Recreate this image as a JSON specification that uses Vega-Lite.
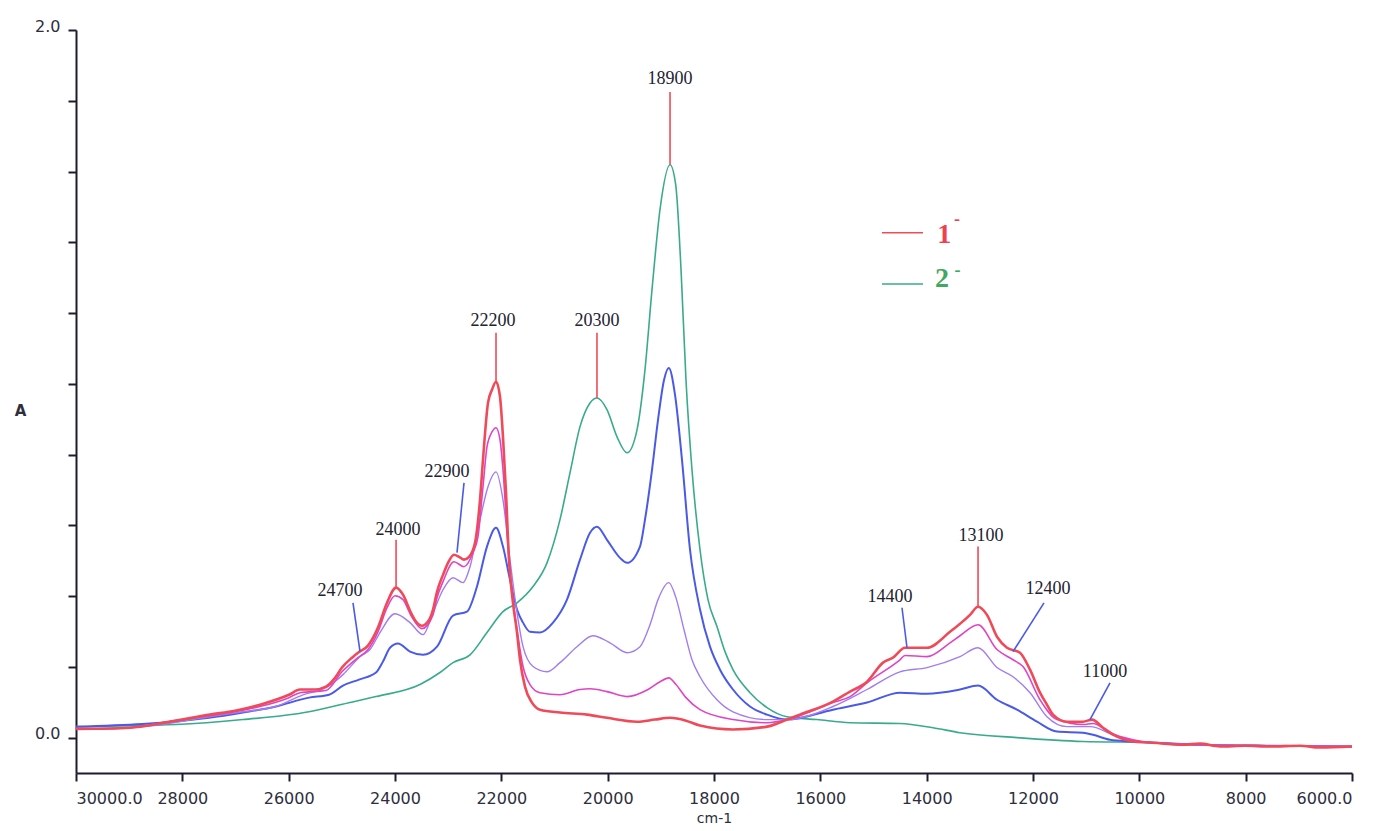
{
"$schema":"https://vega.github.io/schema/vega-lite/v6.json",
"width":1276,"height":743,
"autosize":"none",
"padding":{"left":76,"top":30,"right":31,"bottom":58},
"background":"white",
"config":{"view":{"stroke":null},"axis":{"grid":false}},
"datasets":{
"spectra":[
{"s":"s1","x":30000,"y":0.031},{"s":"s1","x":28119,"y":0.037},{"s":"s1","x":26859,"y":0.051},{"s":"s1","x":25617,"y":0.073},{"s":"s1","x":25034,"y":0.093},{"s":"s1","x":24357,"y":0.116},{"s":"s1","x":23530,"y":0.150},{"s":"s1","x":23154,"y":0.184},{"s":"s1","x":22909,"y":0.212},{"s":"s1","x":22589,"y":0.234},{"s":"s1","x":22270,"y":0.297},{"s":"s1","x":21969,"y":0.356},{"s":"s1","x":21705,"y":0.381},{"s":"s1","x":21404,"y":0.427},{"s":"s1","x":21141,"y":0.494},{"s":"s1","x":20897,"y":0.616},{"s":"s1","x":20708,"y":0.749},{"s":"s1","x":20520,"y":0.879},{"s":"s1","x":20332,"y":0.946},{"s":"s1","x":20201,"y":0.960},{"s":"s1","x":20013,"y":0.927},{"s":"s1","x":19824,"y":0.850},{"s":"s1","x":19636,"y":0.805},{"s":"s1","x":19448,"y":0.870},{"s":"s1","x":19298,"y":1.040},{"s":"s1","x":19166,"y":1.266},{"s":"s1","x":19016,"y":1.492},{"s":"s1","x":18827,"y":1.619},{"s":"s1","x":18720,"y":1.562},{"s":"s1","x":18620,"y":1.322},{"s":"s1","x":18527,"y":1.011},{"s":"s1","x":18414,"y":0.757},{"s":"s1","x":18263,"y":0.531},{"s":"s1","x":18113,"y":0.390},{"s":"s1","x":17944,"y":0.314},{"s":"s1","x":17793,"y":0.243},{"s":"s1","x":17643,"y":0.192},{"s":"s1","x":17323,"y":0.127},{"s":"s1","x":17003,"y":0.085},{"s":"s1","x":16627,"y":0.059},{"s":"s1","x":16063,"y":0.051},{"s":"s1","x":15442,"y":0.042},{"s":"s1","x":14502,"y":0.040},{"s":"s1","x":13881,"y":0.028},{"s":"s1","x":13373,"y":0.014},{"s":"s1","x":12301,"y":0.000},{"s":"s1","x":11059,"y":-0.011},{"s":"s1","x":9799,"y":-0.014},{"s":"s1","x":8859,"y":-0.020},{"s":"s1","x":7542,"y":-0.023},{"s":"s1","x":6000,"y":-0.025},
{"s":"s2","x":30000,"y":0.031},{"s":"s2","x":27498,"y":0.056},{"s":"s2","x":26859,"y":0.071},{"s":"s2","x":26238,"y":0.088},{"s":"s2","x":25617,"y":0.113},{"s":"s2","x":25241,"y":0.121},{"s":"s2","x":24978,"y":0.147},{"s":"s2","x":24677,"y":0.164},{"s":"s2","x":24357,"y":0.184},{"s":"s2","x":24226,"y":0.215},{"s":"s2","x":24094,"y":0.254},{"s":"s2","x":23944,"y":0.266},{"s":"s2","x":23718,"y":0.243},{"s":"s2","x":23473,"y":0.234},{"s":"s2","x":23210,"y":0.257},{"s":"s2","x":22909,"y":0.345},{"s":"s2","x":22646,"y":0.356},{"s":"s2","x":22458,"y":0.427},{"s":"s2","x":22270,"y":0.540},{"s":"s2","x":22100,"y":0.593},{"s":"s2","x":21969,"y":0.540},{"s":"s2","x":21837,"y":0.446},{"s":"s2","x":21705,"y":0.362},{"s":"s2","x":21592,"y":0.325},{"s":"s2","x":21461,"y":0.299},{"s":"s2","x":21273,"y":0.297},{"s":"s2","x":21028,"y":0.325},{"s":"s2","x":20765,"y":0.390},{"s":"s2","x":20520,"y":0.503},{"s":"s2","x":20332,"y":0.579},{"s":"s2","x":20201,"y":0.596},{"s":"s2","x":20013,"y":0.559},{"s":"s2","x":19768,"y":0.508},{"s":"s2","x":19636,"y":0.494},{"s":"s2","x":19392,"y":0.540},{"s":"s2","x":19298,"y":0.616},{"s":"s2","x":19166,"y":0.757},{"s":"s2","x":19053,"y":0.898},{"s":"s2","x":18940,"y":1.011},{"s":"s2","x":18850,"y":1.045},{"s":"s2","x":18733,"y":0.969},{"s":"s2","x":18602,"y":0.785},{"s":"s2","x":18451,"y":0.531},{"s":"s2","x":18263,"y":0.362},{"s":"s2","x":18075,"y":0.257},{"s":"s2","x":17887,"y":0.192},{"s":"s2","x":17643,"y":0.136},{"s":"s2","x":17323,"y":0.088},{"s":"s2","x":17003,"y":0.065},{"s":"s2","x":16627,"y":0.051},{"s":"s2","x":15763,"y":0.079},{"s":"s2","x":15122,"y":0.099},{"s":"s2","x":14502,"y":0.127},{"s":"s2","x":13994,"y":0.124},{"s":"s2","x":13373,"y":0.136},{"s":"s2","x":13034,"y":0.147},{"s":"s2","x":12677,"y":0.107},{"s":"s2","x":12301,"y":0.079},{"s":"s2","x":11925,"y":0.045},{"s":"s2","x":11549,"y":0.017},{"s":"s2","x":11059,"y":0.014},{"s":"s2","x":10871,"y":0.008},{"s":"s2","x":10552,"y":-0.006},{"s":"s2","x":10119,"y":-0.011},{"s":"s2","x":9799,"y":-0.014},{"s":"s2","x":8859,"y":-0.020},{"s":"s2","x":7542,"y":-0.023},{"s":"s2","x":6000,"y":-0.025},
{"s":"s3","x":30000,"y":0.025},{"s":"s3","x":28740,"y":0.031},{"s":"s3","x":27498,"y":0.059},{"s":"s3","x":26859,"y":0.073},{"s":"s3","x":26238,"y":0.088},{"s":"s3","x":25730,"y":0.121},{"s":"s3","x":25298,"y":0.141},{"s":"s3","x":24978,"y":0.178},{"s":"s3","x":24658,"y":0.229},{"s":"s3","x":24470,"y":0.249},{"s":"s3","x":24282,"y":0.297},{"s":"s3","x":24000,"y":0.350},{"s":"s3","x":23718,"y":0.325},{"s":"s3","x":23473,"y":0.291},{"s":"s3","x":23285,"y":0.353},{"s":"s3","x":23097,"y":0.418},{"s":"s3","x":22909,"y":0.452},{"s":"s3","x":22721,"y":0.438},{"s":"s3","x":22589,"y":0.483},{"s":"s3","x":22401,"y":0.616},{"s":"s3","x":22251,"y":0.709},{"s":"s3","x":22100,"y":0.751},{"s":"s3","x":21969,"y":0.672},{"s":"s3","x":21837,"y":0.503},{"s":"s3","x":21705,"y":0.353},{"s":"s3","x":21592,"y":0.257},{"s":"s3","x":21404,"y":0.201},{"s":"s3","x":21141,"y":0.186},{"s":"s3","x":20897,"y":0.212},{"s":"s3","x":20577,"y":0.257},{"s":"s3","x":20276,"y":0.288},{"s":"s3","x":19956,"y":0.268},{"s":"s3","x":19636,"y":0.240},{"s":"s3","x":19392,"y":0.257},{"s":"s3","x":19204,"y":0.319},{"s":"s3","x":19053,"y":0.390},{"s":"s3","x":18850,"y":0.438},{"s":"s3","x":18715,"y":0.395},{"s":"s3","x":18564,"y":0.305},{"s":"s3","x":18414,"y":0.220},{"s":"s3","x":18263,"y":0.172},{"s":"s3","x":17944,"y":0.107},{"s":"s3","x":17643,"y":0.073},{"s":"s3","x":17003,"y":0.051},{"s":"s3","x":16627,"y":0.051},{"s":"s3","x":15763,"y":0.088},{"s":"s3","x":15122,"y":0.136},{"s":"s3","x":14502,"y":0.186},{"s":"s3","x":13994,"y":0.198},{"s":"s3","x":13373,"y":0.229},{"s":"s3","x":13034,"y":0.254},{"s":"s3","x":12677,"y":0.198},{"s":"s3","x":12376,"y":0.172},{"s":"s3","x":12056,"y":0.127},{"s":"s3","x":11737,"y":0.059},{"s":"s3","x":11360,"y":0.031},{"s":"s3","x":10928,"y":0.031},{"s":"s3","x":10420,"y":0.003},{"s":"s3","x":10119,"y":-0.008},{"s":"s3","x":9799,"y":-0.014},{"s":"s3","x":8859,"y":-0.020},{"s":"s3","x":7542,"y":-0.023},{"s":"s3","x":6000,"y":-0.025},
{"s":"s4","x":30000,"y":0.023},{"s":"s4","x":28984,"y":0.028},{"s":"s4","x":28006,"y":0.051},{"s":"s4","x":27480,"y":0.062},{"s":"s4","x":27009,"y":0.073},{"s":"s4","x":26539,"y":0.088},{"s":"s4","x":25994,"y":0.113},{"s":"s4","x":25787,"y":0.127},{"s":"s4","x":25298,"y":0.133},{"s":"s4","x":24997,"y":0.186},{"s":"s4","x":24696,"y":0.226},{"s":"s4","x":24508,"y":0.249},{"s":"s4","x":24320,"y":0.299},{"s":"s4","x":24150,"y":0.367},{"s":"s4","x":24000,"y":0.401},{"s":"s4","x":23850,"y":0.390},{"s":"s4","x":23699,"y":0.345},{"s":"s4","x":23492,"y":0.308},{"s":"s4","x":23285,"y":0.347},{"s":"s4","x":23210,"y":0.395},{"s":"s4","x":23097,"y":0.441},{"s":"s4","x":22890,"y":0.497},{"s":"s4","x":22702,"y":0.483},{"s":"s4","x":22533,"y":0.523},{"s":"s4","x":22439,"y":0.568},{"s":"s4","x":22345,"y":0.709},{"s":"s4","x":22270,"y":0.822},{"s":"s4","x":22176,"y":0.864},{"s":"s4","x":22100,"y":0.876},{"s":"s4","x":22025,"y":0.842},{"s":"s4","x":21969,"y":0.757},{"s":"s4","x":21875,"y":0.540},{"s":"s4","x":21781,"y":0.390},{"s":"s4","x":21686,"y":0.285},{"s":"s4","x":21592,"y":0.201},{"s":"s4","x":21461,"y":0.150},{"s":"s4","x":21273,"y":0.127},{"s":"s4","x":20897,"y":0.121},{"s":"s4","x":20520,"y":0.136},{"s":"s4","x":20332,"y":0.138},{"s":"s4","x":20013,"y":0.130},{"s":"s4","x":19636,"y":0.116},{"s":"s4","x":19241,"y":0.136},{"s":"s4","x":19016,"y":0.158},{"s":"s4","x":18850,"y":0.169},{"s":"s4","x":18715,"y":0.150},{"s":"s4","x":18527,"y":0.113},{"s":"s4","x":18263,"y":0.079},{"s":"s4","x":17643,"y":0.051},{"s":"s4","x":17003,"y":0.042},{"s":"s4","x":16627,"y":0.051},{"s":"s4","x":16382,"y":0.062},{"s":"s4","x":15763,"y":0.099},{"s":"s4","x":15442,"y":0.116},{"s":"s4","x":15122,"y":0.155},{"s":"s4","x":14502,"y":0.220},{"s":"s4","x":14407,"y":0.232},{"s":"s4","x":13994,"y":0.229},{"s":"s4","x":13561,"y":0.268},{"s":"s4","x":13373,"y":0.288},{"s":"s4","x":13034,"y":0.319},{"s":"s4","x":12677,"y":0.249},{"s":"s4","x":12376,"y":0.220},{"s":"s4","x":12188,"y":0.201},{"s":"s4","x":11868,"y":0.107},{"s":"s4","x":11549,"y":0.051},{"s":"s4","x":11059,"y":0.037},{"s":"s4","x":10871,"y":0.040},{"s":"s4","x":10552,"y":0.014},{"s":"s4","x":10119,"y":-0.006},{"s":"s4","x":9799,"y":-0.014},{"s":"s4","x":8859,"y":-0.020},{"s":"s4","x":7542,"y":-0.023},{"s":"s4","x":6000,"y":-0.025},
{"s":"s5","x":30000,"y":0.025},{"s":"s5","x":29549,"y":0.025},{"s":"s5","x":28984,"y":0.028},{"s":"s5","x":28420,"y":0.040},{"s":"s5","x":28006,"y":0.051},{"s":"s5","x":27480,"y":0.065},{"s":"s5","x":27009,"y":0.076},{"s":"s5","x":26539,"y":0.093},{"s":"s5","x":25994,"y":0.121},{"s":"s5","x":25787,"y":0.136},{"s":"s5","x":25505,"y":0.136},{"s":"s5","x":25298,"y":0.144},{"s":"s5","x":25128,"y":0.169},{"s":"s5","x":24997,"y":0.198},{"s":"s5","x":24809,"y":0.226},{"s":"s5","x":24696,"y":0.240},{"s":"s5","x":24508,"y":0.260},{"s":"s5","x":24320,"y":0.311},{"s":"s5","x":24150,"y":0.381},{"s":"s5","x":23980,"y":0.424},{"s":"s5","x":23850,"y":0.404},{"s":"s5","x":23699,"y":0.353},{"s":"s5","x":23605,"y":0.328},{"s":"s5","x":23492,"y":0.316},{"s":"s5","x":23379,"y":0.328},{"s":"s5","x":23285,"y":0.362},{"s":"s5","x":23210,"y":0.412},{"s":"s5","x":23097,"y":0.460},{"s":"s5","x":23003,"y":0.494},{"s":"s5","x":22890,"y":0.517},{"s":"s5","x":22796,"y":0.511},{"s":"s5","x":22702,"y":0.503},{"s":"s5","x":22608,"y":0.511},{"s":"s5","x":22495,"y":0.551},{"s":"s5","x":22401,"y":0.672},{"s":"s5","x":22345,"y":0.785},{"s":"s5","x":22251,"y":0.946},{"s":"s5","x":22176,"y":0.983},{"s":"s5","x":22100,"y":1.006},{"s":"s5","x":22025,"y":0.963},{"s":"s5","x":21969,"y":0.850},{"s":"s5","x":21912,"y":0.692},{"s":"s5","x":21856,"y":0.503},{"s":"s5","x":21781,"y":0.381},{"s":"s5","x":21705,"y":0.297},{"s":"s5","x":21649,"y":0.220},{"s":"s5","x":21555,"y":0.144},{"s":"s5","x":21423,"y":0.099},{"s":"s5","x":21273,"y":0.079},{"s":"s5","x":20897,"y":0.071},{"s":"s5","x":20389,"y":0.065},{"s":"s5","x":20013,"y":0.056},{"s":"s5","x":19448,"y":0.045},{"s":"s5","x":19110,"y":0.051},{"s":"s5","x":18827,"y":0.056},{"s":"s5","x":18527,"y":0.048},{"s":"s5","x":18263,"y":0.034},{"s":"s5","x":17643,"y":0.023},{"s":"s5","x":17003,"y":0.031},{"s":"s5","x":16627,"y":0.051},{"s":"s5","x":16382,"y":0.065},{"s":"s5","x":15763,"y":0.102},{"s":"s5","x":15442,"y":0.130},{"s":"s5","x":15122,"y":0.158},{"s":"s5","x":14821,"y":0.212},{"s":"s5","x":14633,"y":0.226},{"s":"s5","x":14407,"y":0.254},{"s":"s5","x":13994,"y":0.254},{"s":"s5","x":13561,"y":0.299},{"s":"s5","x":13185,"y":0.347},{"s":"s5","x":13034,"y":0.370},{"s":"s5","x":12865,"y":0.347},{"s":"s5","x":12677,"y":0.285},{"s":"s5","x":12489,"y":0.254},{"s":"s5","x":12245,"y":0.240},{"s":"s5","x":12056,"y":0.192},{"s":"s5","x":11868,"y":0.127},{"s":"s5","x":11737,"y":0.093},{"s":"s5","x":11624,"y":0.065},{"s":"s5","x":11360,"y":0.045},{"s":"s5","x":11059,"y":0.045},{"s":"s5","x":10890,"y":0.051},{"s":"s5","x":10683,"y":0.028},{"s":"s5","x":10420,"y":0.003},{"s":"s5","x":10119,"y":-0.011},{"s":"s5","x":9799,"y":-0.014},{"s":"s5","x":9179,"y":-0.020},{"s":"s5","x":8859,"y":-0.017},{"s":"s5","x":8483,"y":-0.025},{"s":"s5","x":8012,"y":-0.023},{"s":"s5","x":7542,"y":-0.025},{"s":"s5","x":6978,"y":-0.023},{"s":"s5","x":6602,"y":-0.028},{"s":"s5","x":6000,"y":-0.025}
],
"ann":[
{"label":"18900","tx":18827,"ty":1.862,"x1":18827,"y1":1.825,"x2":18827,"y2":1.619,"kind":"peak"},
{"label":"22200","tx":22157,"ty":1.178,"x1":22100,"y1":1.144,"x2":22100,"y2":1.006,"kind":"peak"},
{"label":"20300","tx":20201,"ty":1.178,"x1":20201,"y1":1.144,"x2":20201,"y2":0.960,"kind":"peak"},
{"label":"24000","tx":23944,"ty":0.588,"x1":23980,"y1":0.559,"x2":23980,"y2":0.424,"kind":"peak"},
{"label":"13100","tx":12978,"ty":0.571,"x1":13034,"y1":0.540,"x2":13034,"y2":0.370,"kind":"peak"},
{"label":"24700","tx":25034,"ty":0.415,"x1":24790,"y1":0.381,"x2":24658,"y2":0.243,"kind":"shoulder"},
{"label":"22900","tx":23022,"ty":0.751,"x1":22702,"y1":0.720,"x2":22834,"y2":0.523,"kind":"shoulder"},
{"label":"14400","tx":14690,"ty":0.398,"x1":14464,"y1":0.367,"x2":14370,"y2":0.254,"kind":"shoulder"},
{"label":"12400","tx":11718,"ty":0.421,"x1":11793,"y1":0.381,"x2":12376,"y2":0.243,"kind":"shoulder"},
{"label":"11000","tx":10645,"ty":0.186,"x1":10552,"y1":0.155,"x2":10928,"y2":0.051,"kind":"shoulder"}
],
"leg":[
{"key":"1","lx1":14840,"lx2":14069,"ly":1.427,"tx":13800,"ty":1.398,"sx":13430,"sy":1.462},
{"key":"2","lx1":14840,"lx2":14069,"ly":1.282,"tx":13843,"ty":1.274,"sx":13420,"sy":1.318}
]
},
"layer":[
{"data":{"name":"spectra"},"transform":[{"filter":"datum.s=='s1'"}],
 "mark":{"type":"line","color":"#3aaa8c","strokeWidth":1.6,"strokeJoin":"round","interpolate":"monotone"},
 "encoding":{
  "x":{"field":"x","type":"quantitative","title":"cm-1",
   "scale":{"domain":[6000,30000],"reverse":true,"nice":false,"zero":false},
   "axis":{"values":[30000,28000,26000,24000,22000,20000,18000,16000,14000,12000,10000,8000,6000],
    "labelExpr":"datum.value==30000||datum.value==6000 ? format(datum.value,'.1f') : format(datum.value,'d')",
    "domainColor":"#1c1c30","domainWidth":2,"tickColor":"#1c1c30","tickWidth":2,"tickSize":8,
    "labelFont":"DejaVu Sans","labelFontSize":16,"labelColor":"#2e2e3c","labelPadding":9,
    "titleFont":"DejaVu Sans","titleFontSize":14,"titleFontWeight":"normal","titleColor":"#2e2e3c","titleY":45,"titleBaseline":"middle"}},
  "y":{"field":"y","type":"quantitative","title":"A",
   "scale":{"domain":[-0.1,2.0],"nice":false,"zero":false},
   "axis":{"values":[0,0.2,0.4,0.6,0.8,1,1.2,1.4,1.6,1.8,2],
    "labelExpr":"datum.value==0||datum.value==2 ? format(datum.value,'.1f') : ''",
    "domainColor":"#1c1c30","domainWidth":2,"tickColor":"#1c1c30","tickWidth":2,"tickSize":8,
    "labelFont":"DejaVu Sans","labelFontSize":16,"labelColor":"#2e2e3c","labelPadding":8,"labelOffset":-4,
    "titleFont":"DejaVu Sans","titleFontSize":15,"titleFontWeight":"bold","titleColor":"#2e2e3c",
    "titleAngle":0,"titleX":-56,"titleY":380,"titleAlign":"center","titleBaseline":"middle"}}
 }},
{"data":{"name":"spectra"},"transform":[{"filter":"datum.s=='s2'"}],
 "mark":{"type":"line","color":"#4a5ae8","strokeWidth":2.0,"strokeJoin":"round","interpolate":"monotone"},
 "encoding":{"x":{"field":"x","type":"quantitative","title":"cm-1"},"y":{"field":"y","type":"quantitative","title":"A"}}},
{"data":{"name":"spectra"},"transform":[{"filter":"datum.s=='s3'"}],
 "mark":{"type":"line","color":"#a07ef0","strokeWidth":1.4,"strokeJoin":"round","interpolate":"monotone"},
 "encoding":{"x":{"field":"x","type":"quantitative","title":"cm-1"},"y":{"field":"y","type":"quantitative","title":"A"}}},
{"data":{"name":"spectra"},"transform":[{"filter":"datum.s=='s4'"}],
 "mark":{"type":"line","color":"#e044c4","strokeWidth":1.6,"strokeJoin":"round","interpolate":"monotone"},
 "encoding":{"x":{"field":"x","type":"quantitative","title":"cm-1"},"y":{"field":"y","type":"quantitative","title":"A"}}},
{"data":{"name":"spectra"},"transform":[{"filter":"datum.s=='s5'"}],
 "mark":{"type":"line","color":"#f04a58","strokeWidth":2.6,"strokeJoin":"round","interpolate":"monotone"},
 "encoding":{"x":{"field":"x","type":"quantitative","title":"cm-1"},"y":{"field":"y","type":"quantitative","title":"A"}}},
{"data":{"name":"ann"},
 "mark":{"type":"rule","strokeWidth":1.6},
 "encoding":{"x":{"field":"x1","type":"quantitative","title":"cm-1"},"x2":{"field":"x2"},
  "y":{"field":"y1","type":"quantitative","title":"A"},"y2":{"field":"y2"},
  "stroke":{"field":"kind","type":"nominal","scale":{"domain":["peak","shoulder","1","2"],"range":["#f04a58","#4a5ae8","#f04a58","#3aaa8c"]},"legend":null}}},
{"data":{"name":"ann"},
 "mark":{"type":"text","font":"Liberation Serif","fontSize":18,"color":"#222230","align":"center","baseline":"middle"},
 "encoding":{"x":{"field":"tx","type":"quantitative","title":"cm-1"},"y":{"field":"ty","type":"quantitative","title":"A"},"text":{"field":"label"}}},
{"data":{"name":"leg"},
 "mark":{"type":"rule","strokeWidth":1.6},
 "encoding":{"x":{"field":"lx1","type":"quantitative","title":"cm-1"},"x2":{"field":"lx2"},
  "y":{"field":"ly","type":"quantitative","title":"A"},
  "stroke":{"field":"key","type":"nominal","scale":{"domain":["peak","shoulder","1","2"],"range":["#f04a58","#4a5ae8","#f04a58","#3aaa8c"]},"legend":null}}},
{"data":{"name":"leg"},
 "mark":{"type":"text","font":"Liberation Serif","fontSize":28,"fontWeight":"bold","align":"left","baseline":"alphabetic"},
 "encoding":{"x":{"field":"tx","type":"quantitative","title":"cm-1"},"y":{"field":"ty","type":"quantitative","title":"A"},"text":{"field":"key"},
  "fill":{"field":"key","type":"nominal","scale":{"domain":["1","2"],"range":["#f04050","#40a860"]},"legend":null}}},
{"data":{"name":"leg"},
 "mark":{"type":"text","font":"Liberation Serif","fontSize":18,"fontWeight":"bold","align":"center","baseline":"middle","text":"-"},
 "encoding":{"x":{"field":"sx","type":"quantitative","title":"cm-1"},"y":{"field":"sy","type":"quantitative","title":"A"},
  "fill":{"field":"key","type":"nominal","scale":{"domain":["1","2"],"range":["#f04050","#40a860"]},"legend":null}}}
]
}
